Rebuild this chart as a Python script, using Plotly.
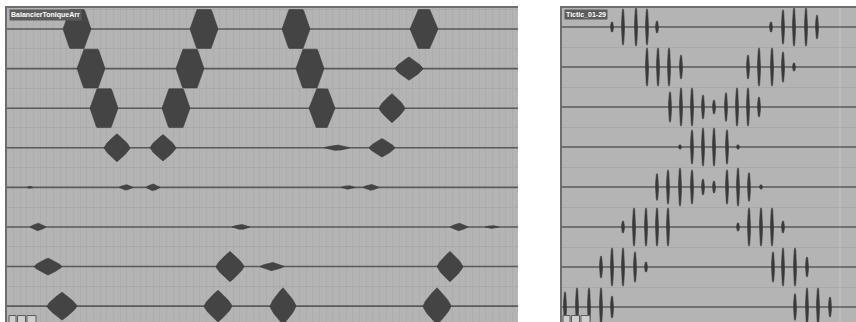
import numpy as np
import plotly.graph_objects as go

# ---------------- data ----------------
# Left clip "BalancierToniqueArr": per lane, blob centres (frames), half-widths, peak level (1 = full scale, >1 = clipped)
left_title = "BalancierToniqueArr"
left_centers = [
    [70, 197, 289, 417],
    [84, 183, 303, 402],
    [97, 169, 315, 385],
    [110, 156, 330, 375],
    [23, 119, 146, 341, 364],
    [31, 234, 452, 485],
    [41, 223, 265, 443],
    [55, 211, 276, 430],
]
left_halfwidths = [
    [14, 14, 14, 14],
    [14, 14, 14, 14],
    [14, 14, 13, 13],
    [13, 13, 13, 13],
    [3, 7, 7, 7, 8],
    [8, 9, 9, 7],
    [14, 14, 12, 13],
    [15, 14, 13, 14],
]
left_levels = [
    [2.1, 2.1, 2.1, 1.7],
    [2.1, 2.1, 2.1, 0.6],
    [2.1, 2.1, 1.8, 0.75],
    [0.72, 0.68, 0.15, 0.48],
    [0.06, 0.15, 0.18, 0.1, 0.16],
    [0.2, 0.14, 0.2, 0.08],
    [0.44, 0.78, 0.22, 0.78],
    [0.72, 0.82, 0.95, 0.95],
]
left_length = 511

# Right clip "Tictic_01-29": per lane, tick positions and peak level
right_title = "Tictic_01-29"
right_ticks = [
    [50, 61, 74, 85, 95, 209, 221, 232, 244, 255],
    [85, 96, 107, 119, 186, 197, 210, 221, 232],
    [108, 119, 130, 141, 152, 164, 175, 186, 197],
    [118, 130, 141, 152, 165, 176],
    [95, 106, 118, 130, 141, 152, 165, 176, 187, 199],
    [61, 72, 84, 95, 106, 176, 187, 199, 210, 221],
    [39, 50, 61, 73, 84, 211, 221, 233, 245],
    [3, 15, 27, 39, 50, 233, 245, 256, 268],
]
right_levels = [
    [0.27, 0.95, 1.0, 0.95, 0.32, 0.27, 0.9, 1.0, 1.0, 0.63],
    [1.0, 1.0, 1.0, 0.63, 0.63, 1.0, 1.0, 0.8, 0.22],
    [0.8, 1.0, 1.0, 0.63, 0.37, 0.75, 1.0, 1.0, 0.53],
    [0.12, 0.9, 1.0, 1.0, 0.9, 0.12],
    [0.7, 0.9, 1.0, 0.9, 0.42, 0.32, 0.9, 1.0, 0.75, 0.12],
    [0.32, 1.0, 1.0, 1.0, 1.0, 0.22, 1.0, 1.0, 1.0, 0.32],
    [0.58, 1.0, 1.0, 0.8, 0.27, 0.8, 1.0, 1.0, 0.53],
    [0.8, 1.0, 1.0, 1.0, 0.58, 0.7, 1.0, 1.0, 0.53],
]
right_length = 294
right_end = 278

# ---------------- style ----------------
W, H = 856, 322
BG = "#b4b4b4"
WAVE = "#444444"
CENTER = "#5a5a5a"
BORDER = "#6e6e6e"
LANE_SEP = "#a9a9a9"
N_LANES = 8
HALF = 0.49  # clip level in lane units


def blob_polys(centers, halfwidths, levels, clip, npts=41):
    xs, ys = [], []
    t = np.linspace(-1, 1, npts)
    for lane, (cs, hws, lvs) in enumerate(zip(centers, halfwidths, levels)):
        base = -lane
        for c, hw, lv in zip(cs, hws, lvs):
            p = 1.0 if lv > 1.5 else 0.75
            env = np.minimum(lv * clip * (1 - np.abs(t)) ** p, clip)
            px = list(c + hw * t) + list(c + hw * t[::-1])
            py = list(base + env) + list(base - env[::-1])
            xs += px + [None]
            ys += py + [None]
    return xs, ys


def tick_polys(ticks, levels, hw, clip, npts=25):
    xs, ys = [], []
    a = np.linspace(0, 2 * np.pi, npts)
    for lane, (ts, lvs) in enumerate(zip(ticks, levels)):
        base = -lane
        for c, lv in zip(ts, lvs):
            xs += list(c + hw * np.cos(a)) + [None]
            ys += list(base + lv * clip * np.sin(a)) + [None]
    return xs, ys


def center_lines(length):
    xs, ys = [], []
    for i in range(N_LANES):
        xs += [0, length, None]
        ys += [-i, -i, None]
    return xs, ys


fig = go.Figure()

cx, cy = center_lines(left_length)
fig.add_trace(go.Scatter(x=cx, y=cy, mode="lines", line=dict(color=CENTER, width=1.6),
                         hoverinfo="skip", xaxis="x", yaxis="y", showlegend=False))
cx2, cy2 = center_lines(right_length)
fig.add_trace(go.Scatter(x=cx2, y=cy2, mode="lines", line=dict(color=CENTER, width=1.6),
                         hoverinfo="skip", xaxis="x2", yaxis="y2", showlegend=False))

lx, ly = blob_polys(left_centers, left_halfwidths, left_levels, HALF)
fig.add_trace(go.Scatter(x=lx, y=ly, fill="toself", fillcolor=WAVE, mode="lines",
                         line=dict(color="#3c3c3c", width=0.6), hoverinfo="skip",
                         xaxis="x", yaxis="y", showlegend=False))

rx, ry = tick_polys(right_ticks, right_levels, 1.5, 0.48)
fig.add_trace(go.Scatter(x=rx, y=ry, fill="toself", fillcolor="#3a3a3a", mode="lines",
                         line=dict(color="#3a3a3a", width=0.6), hoverinfo="skip",
                         xaxis="x2", yaxis="y2", showlegend=False))

shapes = []
# end marker on right clip
shapes.append(dict(type="line", xref="x2", yref="paper", x0=right_end, x1=right_end,
                   y0=0, y1=1 - 8 / H, line=dict(color="#c2c2c2", width=1.5), layer="below"))
# small icons at the bottom-left of each clip
for xr, x0 in (("x", 2), ("x2", 1)):
    widths = [7, 8, 9]
    for k, w in enumerate(widths):
        xs0 = x0 + sum(widths[:k]) + k * 1.5
        shapes.append(dict(type="rect", xref=xr, yref="paper", x0=xs0, x1=xs0 + w,
                           y0=-0.01, y1=0.02, line=dict(color="#5a5a5a", width=1),
                           fillcolor="#d0d0d0", layer="above"))

fig.update_layout(
    width=W, height=H,
    margin=dict(l=0, r=0, t=0, b=0),
    paper_bgcolor="white", plot_bgcolor=BG,
    shapes=shapes,
    xaxis=dict(domain=[7 / W, 518 / W], range=[0, left_length], side="top",
               showline=True, linecolor=BORDER, linewidth=2,
               showgrid=True, gridcolor="#adadad", gridwidth=1, dtick=6.65, tick0=0,
               showticklabels=False, ticks="", zeroline=False, fixedrange=True),
    yaxis=dict(domain=[0, 1 - 8 / H], range=[-7.4, 0.53],
               showline=True, linecolor=BORDER, linewidth=2,
               showgrid=True, gridcolor=LANE_SEP, gridwidth=1, dtick=1, tick0=0.5,
               showticklabels=False, ticks="", zeroline=False, fixedrange=True),
    xaxis2=dict(domain=[562 / W, 1], range=[0, right_length], side="top", anchor="y2",
                showline=True, linecolor=BORDER, linewidth=2,
                showgrid=False, showticklabels=False, ticks="", zeroline=False),
    yaxis2=dict(domain=[0, 1 - 8 / H], range=[-7.375, 0.475], anchor="x2",
                showline=True, linecolor=BORDER, linewidth=2,
                showgrid=True, gridcolor=LANE_SEP, gridwidth=1, dtick=1, tick0=0.5,
                showticklabels=False, ticks="", zeroline=False),
    annotations=[
        dict(text="<b>" + left_title + "</b>", xref="x domain", yref="y domain", x=0.004, y=0.997,
             xanchor="left", yanchor="top", showarrow=False, bgcolor="#5c5c5c",
             font=dict(family="Liberation Sans, Arial", size=7, color="white"), borderpad=1),
        dict(text="<b>" + right_title + "</b>", xref="x2 domain", yref="y2 domain", x=0.006, y=0.997,
             xanchor="left", yanchor="top", showarrow=False, bgcolor="#5c5c5c",
             font=dict(family="Liberation Sans, Arial", size=7, color="white"), borderpad=1),
    ],
)

fig.write_html("out.html", config={"displayModeBar": False, "staticPlot": True},
               post_script="document.body.style.margin='0';document.body.style.padding='0';")
